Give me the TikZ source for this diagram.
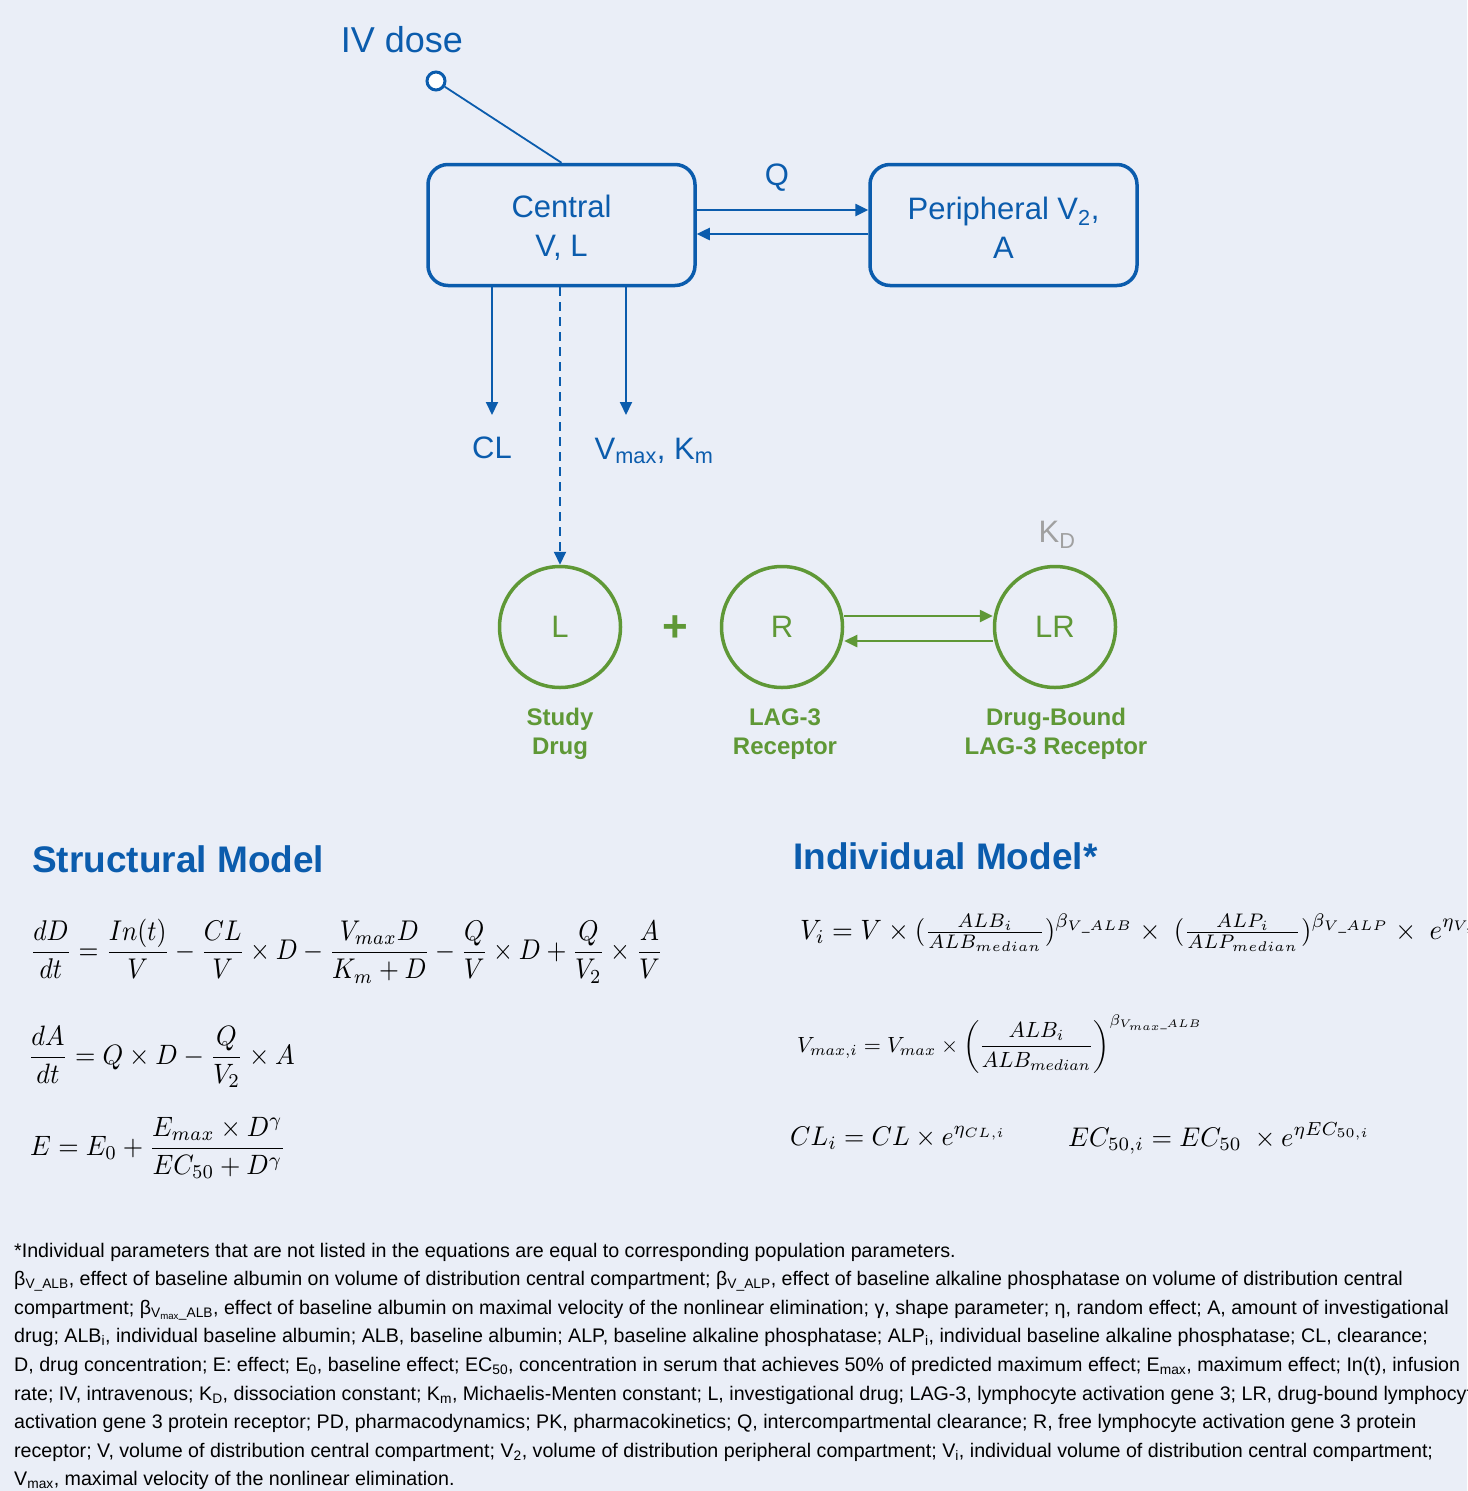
\documentclass[tikz,border=0pt]{standalone}
\usepackage{amsmath}
\usepackage{fontspec}
\setmainfont{Liberation Sans}
\usepackage{graphicx}
\usetikzlibrary{arrows.meta}
\definecolor{bg}{HTML}{EAEEF7}
\definecolor{pkblue}{HTML}{0B5CAD}
\definecolor{pdgreen}{HTML}{5F9836}
\definecolor{kdgray}{HTML}{A0A0A0}
\newcommand\lo[1]{\textsubscript{#1}}
\newcommand\tfr[2]{{\textstyle\frac{#1}{#2}}}
\begin{document}
\begin{tikzpicture}[x=1pt,y=-1pt,
  bluebox/.style={draw=pkblue, line width=3.5pt, rounded corners=20pt, minimum width=267pt, minimum height=121pt, text=pkblue, align=center, font=\fontsize{31}{39}\selectfont},
  species/.style={circle, draw=pdgreen, line width=3.5pt, minimum size=121pt, inner sep=0pt, text=pdgreen, font=\fontsize{31}{37}\selectfont},
  bluelbl/.style={text=pkblue, font=\fontsize{31}{37}\selectfont, inner sep=0pt},
  greenlbl/.style={text=pdgreen, font=\bfseries\fontsize{24}{29}\selectfont, align=center, inner sep=0pt},
  heading/.style={text=pkblue, font=\bfseries\fontsize{37}{44}\selectfont, anchor=west, inner sep=0pt},
  foot/.style={anchor=base west, inner sep=0pt, font=\fontsize{19.65}{28.6}\selectfont},
  eqn/.style={anchor=west, inner sep=0pt},
  bluearrow/.style={draw=pkblue, line width=2.5pt, -{Triangle[length=13pt,width=12pt]}},
  greenarrow/.style={draw=pdgreen, line width=2.5pt, -{Triangle[length=13pt,width=12pt]}},
]
\fill[bg] (0,0) rectangle (1467,1491);
\useasboundingbox (0,0) rectangle (1467,1491);

% PK part
\node[bluelbl, font=\fontsize{36}{40}\selectfont] (iv) at (402,40) {IV dose};
\node[circle, draw=pkblue, fill=white, line width=3pt, minimum size=18pt, inner sep=0pt] (dose) at (436,81) {};
\node[bluebox] (c) at (561.5,225) {\strut Central\\V, L};
\node[bluebox] (p) at (1003.5,225) {\strut Peripheral V\lo{2},\\A};
\draw[pkblue, line width=1.8pt] (dose) -- (c.north);
\node[bluelbl] (q) at (777,178) {Q};
\draw[bluearrow] (c.east |- 0,210) -- (p.west |- 0,210);
\draw[bluearrow] (p.west |- 0,234) -- (c.east |- 0,234);
\coordinate (clend) at (492,415);
\coordinate (vmend) at (626,415);
\draw[bluearrow, line width=2pt] (c.south -| clend) -- (clend);
\draw[bluearrow, line width=2pt] (c.south -| vmend) -- (vmend);
\node[bluelbl] (cl) at (492,448) {CL};
\node[bluelbl] (vm) at (654,451) {V\lo{max}, K\lo{m}};

% PD part
\node[species] (L) at (560,627) {L};
\node[species] (R) at (782,627) {R};
\node[species] (LR) at (1055,627) {LR};
\draw[bluearrow, line width=2pt, dash pattern=on 9pt off 6pt] (c.south -| L.north) -- (L.north);
\node[text=pdgreen, font=\bfseries\fontsize{44}{44}\selectfont, inner sep=0pt] (plus) at (675,629) {+};
\draw[greenarrow] (R.east |- 0,616) -- (LR.west |- 0,616);
\draw[greenarrow] (LR.west |- 0,641) -- (R.east |- 0,641);
\node[bluelbl, text=kdgray] (kd) at (1057,535) {K\lo{D}};
\node[greenlbl] (ls) at (560,734) {Study\\Drug};
\node[greenlbl] (rs) at (785,734) {LAG-3\\Receptor};
\node[greenlbl] (lrs) at (1056,734) {Drug-Bound\\LAG-3 Receptor};

% Headings
\node[heading] (sm) at (32,859) {Structural Model};
\node[heading] (im) at (793,856) {Individual Model*};

% Structural equations
\node[eqn] (s1) at (30,951) {\scalebox{2.56}[2.85]{$\displaystyle \frac{dD}{dt}=\frac{In(t)}{V}-\frac{CL}{V}\times D-\frac{V_{max}D}{K_m+D}-\frac{Q}{V}\times D+\frac{Q}{V_2}\times\frac{A}{V}$}};
\node[eqn] (s2) at (28,1057) {\scalebox{2.62}[2.8]{$\displaystyle \frac{dA}{dt}=Q\times D-\frac{Q}{V_2}\times A$}};
\node[eqn] (s3) at (30,1148) {\scalebox{2.62}[2.8]{$\displaystyle E=E_0+\frac{E_{max}\times D^{\gamma}}{EC_{50}+D^{\gamma}}$}};

% Individual equations
\node[eqn] (i1) at (800,933) {\scalebox{2.68}[2.8]{$\displaystyle V_i=V\times(\tfr{ALB_i}{ALB_{median}})^{\beta_{V\_ALB}}\times\ (\tfr{ALP_i}{ALP_{median}})^{\beta_{V\_ALP}}\times\ e^{\eta_{V,i}}$}};
\node[eqn] (i2) at (797,1044) {\scalebox{2.2}{$\displaystyle V_{max,i}=V_{max}\times\left(\frac{ALB_i}{ALB_{median}}\right)^{\beta_{V_{max}\_ALB}}$}};
\node[eqn] (i3) at (790,1138) {\scalebox{2.6}[2.7]{$\displaystyle CL_i=CL\times e^{\eta_{CL,i}}$}};
\node[eqn] (i4) at (1068,1138) {\scalebox{2.64}[2.7]{$\displaystyle EC_{50,i}=EC_{50}\ \times e^{\eta EC_{50,i}}$}};

% Footnote
\node[foot] (f1) at (14,1257.0) {*Individual parameters that are not listed in the equations are equal to corresponding population parameters.};
\node[foot] (f2) at (14,1285.6) {β\lo{V\_ALB}, effect of baseline albumin on volume of distribution central compartment; β\lo{V\_ALP}, effect of baseline alkaline phosphatase on volume of distribution central};
\node[foot] (f3) at (14,1314.2) {compartment; β\lo{V\lo{max}\_ALB}, effect of baseline albumin on maximal velocity of the nonlinear elimination; γ, shape parameter; η, random effect; A, amount of investigational};
\node[foot] (f4) at (14,1342.8) {drug; ALB\lo{i}, individual baseline albumin; ALB, baseline albumin; ALP, baseline alkaline phosphatase; ALP\lo{i}, individual baseline alkaline phosphatase; CL, clearance;};
\node[foot] (f5) at (14,1371.4) {D, drug concentration; E: effect; E\lo{0}, baseline effect; EC\lo{50}, concentration in serum that achieves 50\% of predicted maximum effect; E\lo{max}, maximum effect; In(t), infusion};
\node[foot] (f6) at (14,1400.0) {rate; IV, intravenous; K\lo{D}, dissociation constant; K\lo{m}, Michaelis-Menten constant; L, investigational drug; LAG-3, lymphocyte activation gene 3; LR, drug-bound lymphocyte};
\node[foot] (f7) at (14,1428.6) {activation gene 3 protein receptor; PD, pharmacodynamics; PK, pharmacokinetics; Q, intercompartmental clearance; R, free lymphocyte activation gene 3 protein};
\node[foot] (f8) at (14,1457.2) {receptor; V, volume of distribution central compartment; V\lo{2}, volume of distribution peripheral compartment; V\lo{i}, individual volume of distribution central compartment;};
\node[foot] (f9) at (14,1485.8) {V\lo{max}, maximal velocity of the nonlinear elimination.};
\end{tikzpicture}
\end{document}
